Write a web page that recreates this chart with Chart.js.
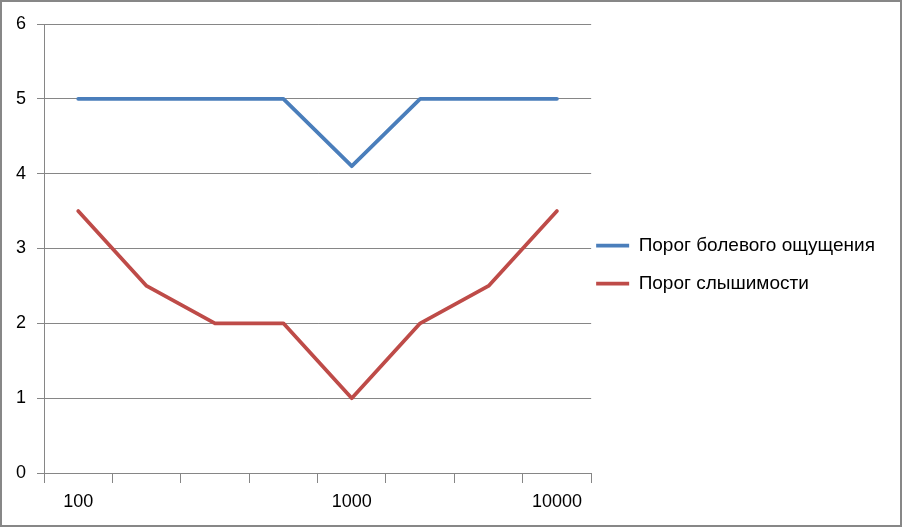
<!DOCTYPE html>
<html>
<head>
<meta charset="utf-8">
<script src="https://cdn.jsdelivr.net/npm/chart.js@4/dist/chart.umd.min.js"></script>
<style>
    html, body { margin: 0; padding: 0; background: #fff; }
    #wrap {
        width: 902px; height: 527px; box-sizing: border-box;
        border: 2px solid #878787; position: relative;
    }
    #thresholdChart { display: block; }
</style>
</head>
<body>
<div id="wrap"><canvas id="thresholdChart" width="898" height="523"></canvas></div>
<script>
// Frequency categories (only some are labelled on the axis)
const categories = ['100', '', '', '', '1000', '', '', '10000'];
const painThreshold = [5, 5, 5, 5, 4.1, 5, 5, 5];
const hearingThreshold = [3.5, 2.5, 2, 2, 1, 2, 2.5, 3.5];
const yTicks = [0, 1, 2, 3, 4, 5, 6];

const gridColor = '#868686';
const fontFamily = '"Liberation Sans", Arial, sans-serif';
const legendPad = 19;

// Excel puts the legend close to the plot area; nudge the legend box after layout
const legendNudge = {
    id: 'legendNudge',
    afterLayout(chart) {
        const lg = chart.legend;
        if (!lg) return;
        const dx = (chart.chartArea.right + 5 - legendPad) - lg.left;
        lg.left += dx;
        lg.right += dx;
        lg.top -= 10;
        lg.bottom -= 10;
    }
};

new Chart(document.getElementById('thresholdChart'), {
    type: 'line',
    data: {
        labels: categories,
        datasets: [
            {
                label: 'Порог болевого ощущения',
                data: painThreshold,
                borderColor: '#4A7EBB',
                backgroundColor: '#4A7EBB',
                borderWidth: 3.75,
                pointRadius: 0,
                tension: 0,
                borderCapStyle: 'round',
                borderJoinStyle: 'round'
            },
            {
                label: 'Порог слышимости',
                data: hearingThreshold,
                borderColor: '#BE4B48',
                backgroundColor: '#BE4B48',
                borderWidth: 3.75,
                pointRadius: 0,
                tension: 0,
                borderCapStyle: 'round',
                borderJoinStyle: 'round'
            }
        ]
    },
    options: {
        responsive: false,
        animation: false,
        layout: { padding: { top: 22, right: 1, bottom: 0, left: 0 } },
        plugins: {
            legend: {
                position: 'right',
                align: 'center',
                maxWidth: 400,
                labels: {
                    color: '#000',
                    font: { family: fontFamily, size: 19 },
                    usePointStyle: true,
                    pointStyle: 'line',
                    pointStyleWidth: 33,
                    padding: legendPad
                }
            },
            tooltip: { enabled: false }
        },
        scales: {
            x: {
                offset: true,
                grid: {
                    offset: true,
                    drawOnChartArea: false,
                    drawTicks: true,
                    tickLength: 10,
                    color: gridColor
                },
                border: { display: true, color: gridColor },
                ticks: {
                    color: '#000',
                    font: { family: fontFamily, size: 18 },
                    autoSkip: false,
                    maxRotation: 0,
                    padding: 8
                },
                afterFit: function(scale) { scale.height = 52; }
            },
            y: {
                min: 0,
                max: 6,
                grid: { color: gridColor, tickLength: 7 },
                border: { display: true, color: gridColor },
                afterBuildTicks: function(scale) {
                    scale.ticks = yTicks.map(v => ({ value: v }));
                },
                ticks: {
                    color: '#000',
                    font: { family: fontFamily, size: 18 },
                    padding: 11
                },
                afterFit: function(scale) { scale.width = 42; }
            }
        }
    },
    plugins: [legendNudge]
});
</script>
</body>
</html>
